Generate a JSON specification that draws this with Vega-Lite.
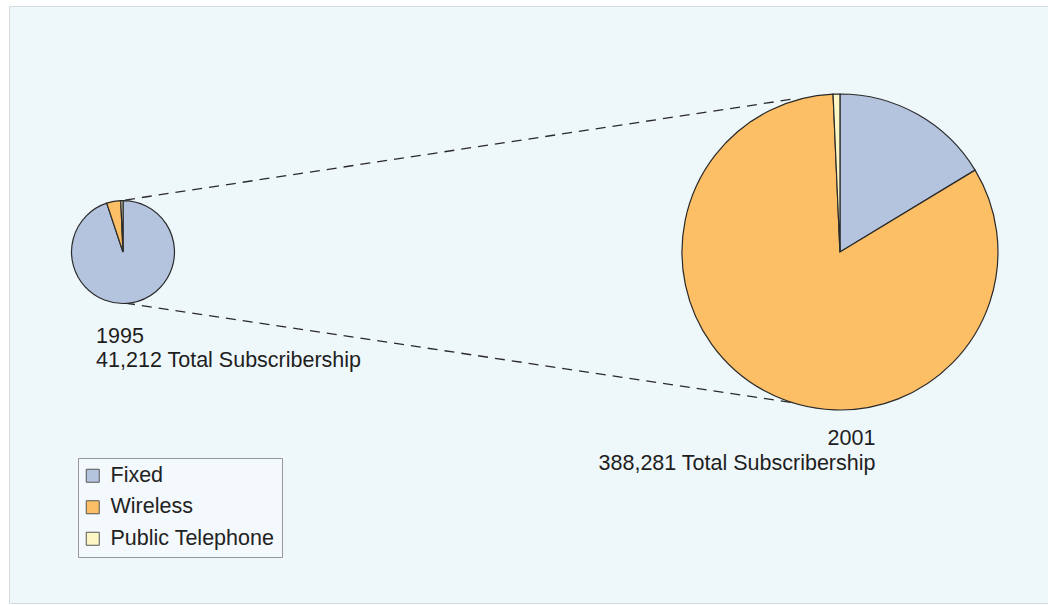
{
  "$schema": "https://vega.github.io/schema/vega-lite/v6.json",
  "width": 1039,
  "height": 597,
  "autosize": {"type": "none"},
  "padding": {"left": 9, "top": 6, "right": 0, "bottom": 2},
  "background": "#ffffff",
  "config": {
    "view": {"fill": "#eef7fa", "stroke": "#d5dadd", "strokeWidth": 1},
    "font": "Liberation Sans"
  },
  "datasets": {
    "pies": [
      {"year": 1995, "category": "Fixed", "rank": 1, "subscribers": 39100},
      {"year": 1995, "category": "Wireless", "rank": 2, "subscribers": 1830},
      {"year": 1995, "category": "Public Telephone", "rank": 3, "subscribers": 282},
      {"year": 2001, "category": "Fixed", "rank": 1, "subscribers": 63400},
      {"year": 2001, "category": "Wireless", "rank": 2, "subscribers": 322181},
      {"year": 2001, "category": "Public Telephone", "rank": 3, "subscribers": 2700}
    ],
    "connectors": [
      {"x1": 1995.017, "y1": 0.329, "x2": 2000.607, "y2": 0.968},
      {"x1": 1995.017, "y1": -0.323, "x2": 2000.958, "y2": -0.994}
    ],
    "labels": [
      {"year": 1995, "text": "1995", "lx": 1994.775, "ly": -0.576},
      {"year": 1995, "text": "41,212 Total Subscribership", "lx": 1994.775, "ly": -0.728},
      {"year": 2001, "text": "2001", "lx": 2001.297, "ly": -1.222},
      {"year": 2001, "text": "388,281 Total Subscribership", "lx": 2001.297, "ly": -1.38}
    ]
  },
  "layer": [
    {
      "data": {"name": "connectors"},
      "mark": {"type": "rule", "stroke": "#2a2a2a", "strokeWidth": 1.3, "strokeDash": [10, 7]},
      "encoding": {
        "x": {"field": "x1", "type": "quantitative", "scale": {"domain": [1994.046, 2002.741], "nice": false, "zero": false}, "axis": null},
        "y": {"field": "y1", "type": "quantitative", "scale": {"domain": [-2.2215, 1.557], "nice": false, "zero": false}, "axis": null},
        "x2": {"field": "x2"},
        "y2": {"field": "y2"}
      }
    },
    {
      "data": {"name": "pies"},
      "transform": [
        {"joinaggregate": [{"op": "sum", "field": "subscribers", "as": "total"}], "groupby": ["year"]},
        {"stack": "subscribers", "groupby": ["year"], "sort": [{"field": "rank", "order": "ascending"}], "offset": "normalize", "as": ["t0", "t1"]}
      ],
      "mark": {"type": "arc", "stroke": "#2a2a2a", "strokeWidth": 1.2},
      "encoding": {
        "x": {"field": "year", "type": "quantitative", "stack": null, "scale": {"domain": [1994.046, 2002.741], "nice": false, "zero": false}, "axis": null},
        "y": {"datum": 0, "type": "quantitative", "stack": null, "scale": {"domain": [-2.2215, 1.557], "nice": false, "zero": false}, "axis": null},
        "theta": {"field": "t0", "type": "quantitative", "stack": null, "scale": {"domain": [0, 1]}},
        "theta2": {"field": "t1"},
        "radius": {"field": "total", "type": "quantitative", "stack": null, "scale": {"type": "sqrt", "domain": [0, 388281], "range": [0, 158], "zero": true}, "legend": null},
        "color": {
          "field": "category",
          "type": "nominal",
          "scale": {"domain": ["Fixed", "Wireless", "Public Telephone"], "range": ["#b4c4de", "#fdbf66", "#fdf7c6"]},
          "legend": {
            "title": null,
            "orient": "none",
            "legendX": 69,
            "legendY": 452,
            "symbolType": "square",
            "symbolSize": 169,
            "symbolOffset": -3,
            "symbolStrokeColor": "#555555",
            "symbolStrokeWidth": 1,
            "labelFontSize": 21.5,
            "labelFont": "Liberation Sans",
            "labelColor": "#222222",
            "labelOffset": 7,
            "labelLimit": 0,
            "rowPadding": 8.5,
            "padding": 7,
            "strokeColor": "#999999",
            "fillColor": "#f3f9fc"
          }
        }
      }
    },
    {
      "data": {"name": "labels"},
      "transform": [{"filter": "datum.year == 1995"}],
      "mark": {"type": "text", "align": "left", "baseline": "alphabetic", "fontSize": 21.5, "font": "Liberation Sans", "color": "#1e1e1e"},
      "encoding": {
        "x": {"field": "lx", "type": "quantitative", "scale": {"domain": [1994.046, 2002.741], "nice": false, "zero": false}, "axis": null},
        "y": {"field": "ly", "type": "quantitative", "scale": {"domain": [-2.2215, 1.557], "nice": false, "zero": false}, "axis": null},
        "text": {"field": "text"}
      }
    },
    {
      "data": {"name": "labels"},
      "transform": [{"filter": "datum.year == 2001"}],
      "mark": {"type": "text", "align": "right", "baseline": "alphabetic", "fontSize": 21.5, "font": "Liberation Sans", "color": "#1e1e1e"},
      "encoding": {
        "x": {"field": "lx", "type": "quantitative", "scale": {"domain": [1994.046, 2002.741], "nice": false, "zero": false}, "axis": null},
        "y": {"field": "ly", "type": "quantitative", "scale": {"domain": [-2.2215, 1.557], "nice": false, "zero": false}, "axis": null},
        "text": {"field": "text"}
      }
    }
  ]
}
